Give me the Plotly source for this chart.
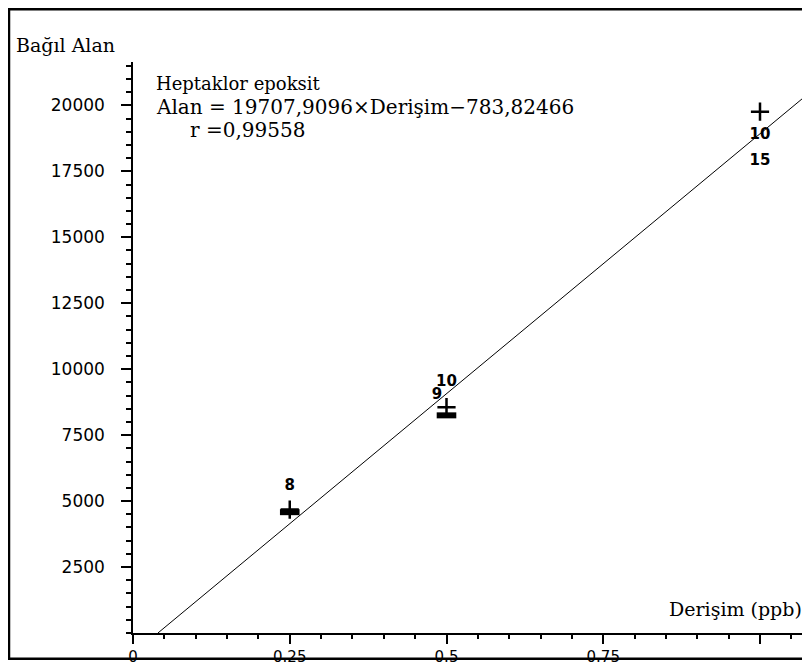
import plotly.graph_objects as go

# ---- data ----
slope = 19707.9096
intercept = -783.82466
line_x = [-intercept / slope, 1.0797]

cross_x = [0.25, 0.5, 1.0]
cross_y = [4680, 8560, 19760]

block_x = [0.25, 0.5]
block_y = [4580, 8250]

label_x = [0.25, 0.5, 0.485, 1.0, 1.0]
label_y = [5560, 9500, 9030, 18850, 17900]
label_text = ["8", "10", "9", "10", "15"]

x_tick_vals = [0, 0.25, 0.5, 0.75, 1.0]
x_tick_text = ["0", "0.25", "0.5", "0.75", ""]
y_tick_vals = [2500, 5000, 7500, 10000, 12500, 15000, 17500, 20000]
y_tick_text = ["2500", "5000", "7500", "10000", "12500", "15000", "17500", "20000"]

# page body has an 8px margin: lay out in reference pixels minus 8
OFF = 8
W, H = 810 - OFF, 666 - OFF
L, R, T, B = 133 - OFF, 0, 62 - OFF, 666 - 636
pw, ph = W - L - R, H - T - B

def px(x):
    return (x - OFF - L) / pw

def py(y):
    return (H - B - (y - OFF)) / ph

line_y = [slope * v + intercept for v in line_x]

fig = go.Figure()
fig.add_trace(go.Scatter(x=line_x, y=line_y, mode="lines",
                         line=dict(color="black", width=1), hoverinfo="skip"))
fig.add_trace(go.Scatter(x=cross_x, y=cross_y, mode="markers",
                         marker=dict(symbol="cross-thin", size=13,
                                     line=dict(color="black", width=2.5))))
fig.add_trace(go.Scatter(x=block_x, y=block_y, mode="markers",
                         marker=dict(symbol="line-ew", size=14,
                                     line=dict(color="black", width=6))))
fig.add_trace(go.Scatter(x=label_x, y=label_y, mode="text", text=label_text,
                         textfont=dict(family="DejaVu Sans", size=15, color="black",
                                       weight="bold"),
                         textposition="middle center"))

serif = "DejaVu Serif"
fig.update_layout(
    width=W, height=H,
    margin=dict(l=L, r=R, t=T, b=B, pad=0),
    paper_bgcolor="white", plot_bgcolor="white",
    showlegend=False,
    xaxis=dict(range=[0, pw / 627.0], showgrid=False, zeroline=False,
               showline=True, linecolor="black", linewidth=1.5,
               tickmode="array", tickvals=x_tick_vals, ticktext=x_tick_text,
               ticks="outside", ticklen=9, tickwidth=1.5, tickcolor="black",
               minor=dict(dtick=0.05, ticks="outside", ticklen=4, tickwidth=1.5,
                          tickcolor="black", showgrid=False),
               tickfont=dict(family="DejaVu Sans", size=15, color="black")),
    yaxis=dict(range=[0, ph / 66.3 * 2500], showgrid=False, zeroline=False,
               showline=True, linecolor="black", linewidth=1.5,
               tickmode="array", tickvals=y_tick_vals, ticktext=y_tick_text,
               ticks="outside", ticklen=10, tickwidth=1.5, tickcolor="black",
               ticklabelstandoff=13,
               minor=dict(dtick=500, ticks="outside", ticklen=5, tickwidth=1.5,
                          tickcolor="black", showgrid=False),
               tickfont=dict(family="DejaVu Sans", size=17, color="black")),
    shapes=[dict(type="rect", xref="paper", yref="paper",
                 x0=px(OFF + 1), x1=px(830), y0=py(662), y1=py(OFF + 1),
                 line=dict(color="black", width=2.5), fillcolor="rgba(0,0,0,0)")],
    annotations=[
        dict(text="Bağıl Alan", xref="paper", yref="paper", x=px(14), y=py(45),
             xanchor="left", yanchor="middle", showarrow=False,
             font=dict(family=serif, size=19, color="black")),
        dict(text="Derişim (ppb)", xref="paper", yref="paper", x=px(804), y=py(612),
             xanchor="right", yanchor="middle", showarrow=False,
             font=dict(family=serif, size=19, color="black")),
        dict(text="Heptaklor epoksit", xref="paper", yref="paper", x=px(154), y=py(84),
             xanchor="left", yanchor="middle", showarrow=False,
             font=dict(family=serif, size=18, color="black")),
        dict(text="Alan = 19707,9096×Derişim−783,82466", xref="paper", yref="paper",
             x=px(154), y=py(107), xanchor="left", yanchor="middle", showarrow=False,
             font=dict(family=serif, size=20, color="black")),
        dict(text="r =0,99558", xref="paper", yref="paper", x=px(188), y=py(130),
             xanchor="left", yanchor="middle", showarrow=False,
             font=dict(family=serif, size=20, color="black")),
    ],
)

fig.write_html("out.html")
